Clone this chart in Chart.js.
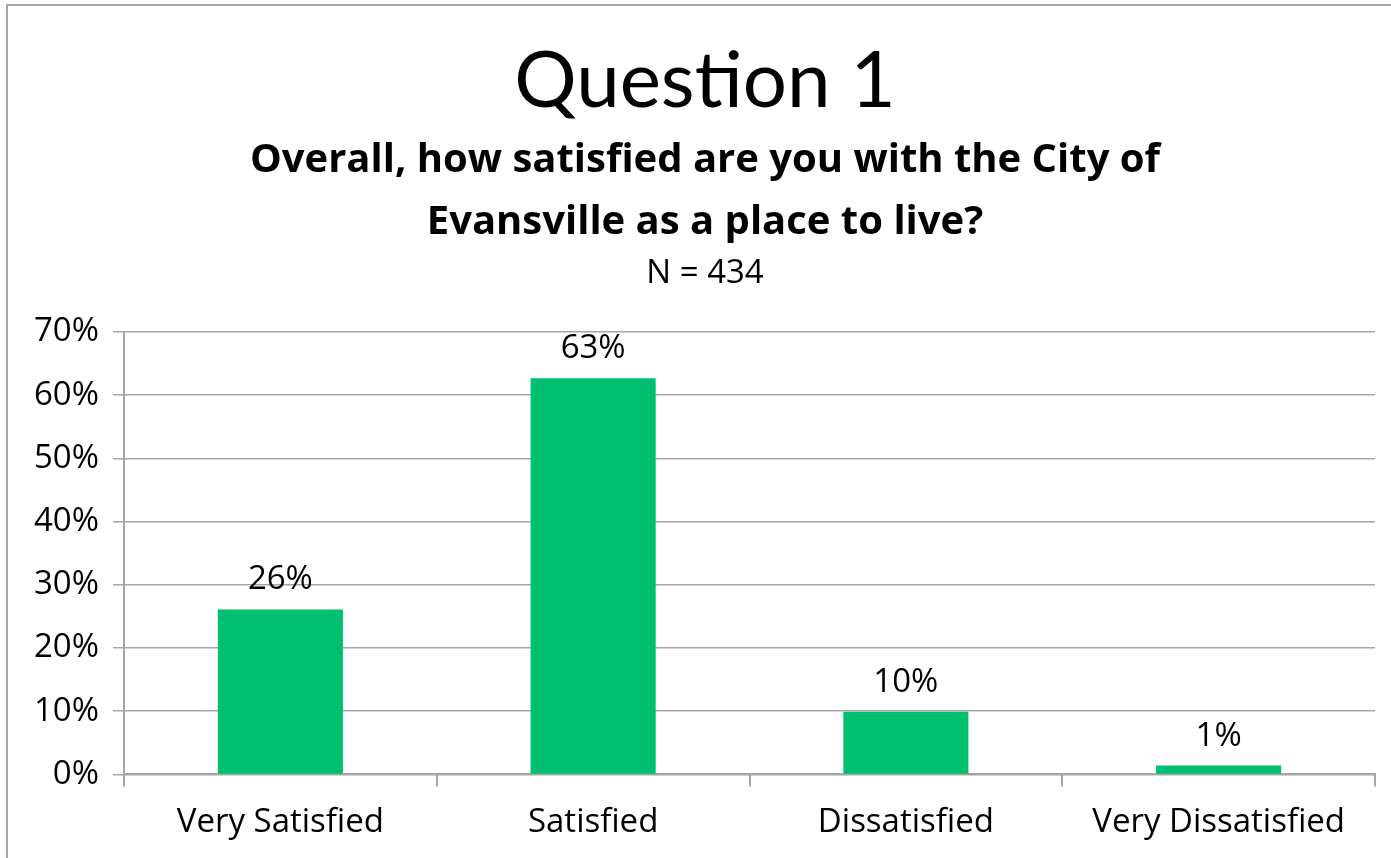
<!DOCTYPE html>
<html>
<head>
<meta charset="utf-8">
<script src="https://cdn.jsdelivr.net/npm/chart.js@4"></script>
<style>
  html, body { margin: 0; padding: 0; background: #fff; }
  #wrap { position: absolute; left: 0; top: 0; width: 1391px; height: 858px; overflow: hidden; }
  #frame { position: absolute; left: 6px; top: 4px; width: 1400px; height: 900px;
           border-left: 2px solid #a6a6a6; border-top: 2px solid #a6a6a6; pointer-events: none; }
</style>
</head>
<body>
<div id="wrap">
  <canvas id="myChart" width="1391" height="858"></canvas>
  <div id="frame"></div>
</div>
<script>
// datos del grafico
const categorias = ['Very Satisfied', 'Satisfied', 'Dissatisfied', 'Very Dissatisfied'];
const valores = [26.1, 62.7, 9.9, 1.4];       // porcentaje (altura de la barra)
const etiquetas = ['26%', '63%', '10%', '1%']; // texto sobre cada barra
const titulo = 'Question 1';
const pregunta = ['Overall, how satisfied are you with the City of', 'Evansville as a place to live?'];
const muestra = 'N = 434';

const fuente = '"Open Sans", Lato, sans-serif';

// plugin para los titulos y las etiquetas sobre las barras
const textosExtra = {
    id: 'textosExtra',
    afterDatasetsDraw(chart) {
        const c = chart.ctx;
        const cx = 705;
        c.save();
        c.fillStyle = '#000';
        c.textAlign = 'center';
        c.textBaseline = 'alphabetic';

        c.font = '78px Lato, sans-serif';
        c.fillText(titulo, cx, 107);

        c.font = 'bold 40px ' + fuente;
        c.fillText(pregunta[0], cx, 172);
        c.fillText(pregunta[1], cx, 234);

        c.font = '33px ' + fuente;
        c.fillText(muestra, cx, 283);

        chart.getDatasetMeta(0).data.forEach((bar, i) => {
            c.fillText(etiquetas[i], bar.x, bar.y - 20);
        });
        c.restore();
    }
};

const ctx = document.getElementById('myChart').getContext('2d');
const myChart = new Chart(ctx, {
    type: 'bar',
    data: {
        labels: categorias,
        datasets: [{
            data: valores,
            backgroundColor: '#00C070',
            borderWidth: 0,
            categoryPercentage: 1,
            barPercentage: 0.4
        }]
    },
    options: {
        responsive: false,
        animation: false,
        layout: { padding: { left: 20, right: 16, top: 332, bottom: 0 } },
        plugins: {
            legend: { display: false },
            tooltip: { enabled: false },
            title: { display: false },
            subtitle: { display: false }
        },
        scales: {
            x: {
                grid: {
                    display: true,
                    drawOnChartArea: false,
                    offset: true,
                    tickLength: 12,
                    color: '#a6a6a6',
                    lineWidth: 2
                },
                border: { color: '#a6a6a6', width: 2 },
                ticks: {
                    color: '#000',
                    font: { family: fuente, size: 33 },
                    padding: 16,
                    maxRotation: 0
                }
            },
            y: {
                min: 0,
                max: 70,
                ticks: {
                    stepSize: 10,
                    color: '#000',
                    font: { family: fuente, size: 33 },
                    padding: 14,
                    callback: v => v + '%'
                },
                grid: {
                    color: '#a6a6a6',
                    lineWidth: 1.5,
                    tickLength: 11
                },
                border: { color: '#a6a6a6', width: 2 }
            }
        }
    },
    plugins: [textosExtra]
});
</script>
</body>
</html>
